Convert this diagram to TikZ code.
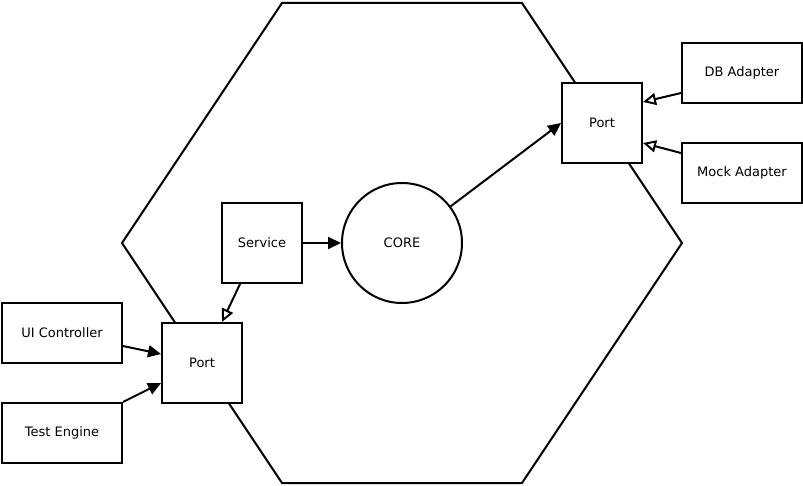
\documentclass[tikz,border=0pt]{standalone}
\usepackage{fontspec}
\setmainfont{DejaVu Sans}
\usetikzlibrary{arrows.meta,calc}
\begin{document}
\begin{tikzpicture}[x=1pt,y=-1pt,
  box/.style={draw,line width=2pt,fill=white,minimum width=80pt,minimum height=80pt,inner sep=0pt,font=\fontsize{13}{15}\selectfont},
  wide/.style={box,minimum width=120pt,minimum height=60pt},
  conn/.style={line width=2pt},
  filled/.style={conn,-{Triangle[length=13pt,width=12pt]}},
  hollow/.style={conn,-{Triangle[open,length=13pt,width=12pt,line width=2pt]}}]
\useasboundingbox (0,0) rectangle (803,486);
\draw[line width=2pt,line join=miter] (282,3) -- (522,3) -- (682,243) -- (522,483) -- (282,483) -- (122,243) -- cycle;
\node[wide] (db) at (742,73) {DB Adapter};
\node[wide] (mock) at (742,173) {Mock Adapter};
\node[box] (portR) at (602,123) {Port};
\node[box] (service) at (262,243) {Service};
\node[draw,circle,line width=2pt,minimum size=120pt,inner sep=0pt,font=\fontsize{13}{15}\selectfont] (core) at (402,243) {CORE};
\node[box] (portL) at (202,363) {Port};
\node[wide] (ui) at (62,333) {UI Controller};
\node[wide] (test) at (62,433) {Test Engine};
\draw[hollow] ([yshift=-20pt]db.west) -- ([yshift=21pt]portR.east);
\draw[hollow] ([yshift=20pt]mock.west) -- ([yshift=-20pt]portR.east);
\draw[hollow] ([xshift=-22pt]service.south) -- ([xshift=20pt]portL.north);
\draw[filled] (service.east) -- (core.west);
\draw[filled] (core.37) -- (portR.west);
\draw[filled] ([yshift=-13pt]ui.east) -- ([yshift=9pt]portL.west);
\draw[filled] (test.north east) -- ([yshift=-20pt]portL.west);
\end{tikzpicture}
\end{document}
